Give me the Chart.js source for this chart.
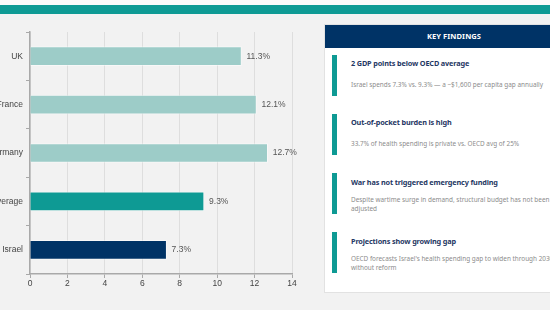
<!DOCTYPE html>
<html>
<head>
<meta charset="utf-8">
<script src="https://cdn.jsdelivr.net/npm/chart.js@4.4.1/dist/chart.umd.min.js"></script>
<style>
    html, body {
        margin: 0;
        padding: 0;
        width: 550px;
        height: 310px;
        overflow: hidden;
        background: #f2f2f2;
        font-family: "Liberation Sans", Arial, sans-serif;
    }
    .top-white { position: absolute; left: 0; top: 0; width: 550px; height: 5px; background: #fafafa; }
    .top-bar { position: absolute; left: 0; top: 5px; width: 550px; height: 9px; background: #0e9a94; }
    .chart-box { position: absolute; left: -70px; top: 20px; width: 370px; height: 276px; }
    .card {
        position: absolute; left: 324px; top: 24px; width: 260px; height: 269px;
        background: #ffffff; border: 1px solid #e2e2e2; box-sizing: border-box;
    }
    .card-head {
        height: 23px; background: #003366; color: #fff; text-align: center;
        font-family: "Noto Sans", sans-serif; font-weight: bold; font-size: 7.5px;
        line-height: 23px; letter-spacing: 0.1px;
    }
    .item { position: absolute; left: 7px; width: 250px; height: 41px; }
    .item .accent { position: absolute; left: 0; top: 0; width: 5px; height: 41px; background: #0e9a94; }
    .item .title {
        position: absolute; left: 19px; font-family: "Noto Sans", sans-serif; font-weight: bold;
        font-size: 7.3px; color: #1f3864; white-space: nowrap; line-height: 11px; letter-spacing: -0.15px;
    }
    .item .desc {
        position: absolute; left: 19px; width: 205px; font-family: "Noto Sans", sans-serif;
        font-size: 6.4px; color: #8c8c8c; line-height: 9px;
    }
</style>
</head>
<body>
<div class="top-white"></div>
<div class="top-bar"></div>
<div class="chart-box"><canvas id="main-chart"></canvas></div>

<div class="card">
    <div class="card-head">KEY FINDINGS</div>
    <div class="item" style="top:30px">
        <div class="accent"></div>
        <div class="title" style="top:2.5px">2 GDP points below OECD average</div>
        <div class="desc" style="top:24.5px">Israel spends 7.3% vs. 9.3% — a ~$1,600 per capita gap annually</div>
    </div>
    <div class="item" style="top:89px">
        <div class="accent"></div>
        <div class="title" style="top:2.5px">Out-of-pocket burden is high</div>
        <div class="desc" style="top:24.5px">33.7% of health spending is private vs. OECD avg of 25%</div>
    </div>
    <div class="item" style="top:148px">
        <div class="accent"></div>
        <div class="title" style="top:3.5px">War has not triggered emergency funding</div>
        <div class="desc" style="top:21.5px">Despite wartime surge in demand, structural budget has not been adjusted</div>
    </div>
    <div class="item" style="top:207px">
        <div class="accent"></div>
        <div class="title" style="top:3.5px">Projections show growing gap</div>
        <div class="desc" style="top:21.5px">OECD forecasts Israel's health spending gap to widen through 2030 without reform</div>
    </div>
</div>

<script>
const countries = ["UK", "France", "Germany", "OECD Average", "Israel"];
const spending = [11.3, 12.1, 12.7, 9.3, 7.3];
const barColors = ["#9dccc8", "#9dccc8", "#9dccc8", "#0e9a94", "#003366"];
const xTicks = [0, 2, 4, 6, 8, 10, 12, 14];

// draws the "11.3%" style labels at the end of each bar
const valueLabels = {
    id: "valueLabels",
    afterDatasetsDraw(chart) {
        const ctx = chart.ctx;
        const meta = chart.getDatasetMeta(0);
        ctx.save();
        ctx.font = "8.5px 'Liberation Sans', Arial, sans-serif";
        ctx.fillStyle = "#555555";
        ctx.textAlign = "left";
        ctx.textBaseline = "middle";
        meta.data.forEach((bar, i) => {
            ctx.fillText(spending[i].toFixed(1) + "%", bar.x + 5, bar.y);
        });
        ctx.restore();
    },
};

const chartCanvas = document.getElementById("main-chart");

new Chart(chartCanvas, {
    type: "bar",
    data: {
        labels: countries,
        datasets: [
            {
                data: spending,
                backgroundColor: barColors,
                borderColor: "rgba(255, 255, 255, 0.45)",
                borderWidth: 1,
                barThickness: 19,
            },
        ],
    },
    options: {
        indexAxis: "y",
        responsive: true,
        maintainAspectRatio: false,
        animation: false,
        layout: {
            padding: { top: 12, left: 0, right: 8, bottom: 0 },
        },
        scales: {
            x: {
                min: 0,
                max: 14,
                afterBuildTicks(scale) {
                    scale.ticks = xTicks.map((v) => ({ value: v }));
                },
                afterFit(scale) {
                    scale.height = 22;
                },
                border: { color: "#a9a9a9", width: 1.5 },
                grid: {
                    color: "#dedede",
                    tickColor: "#a9a9a9",
                    tickLength: 4,
                },
                ticks: {
                    color: "#444444",
                    padding: 1,
                    font: { family: "Liberation Sans", size: 8.5 },
                },
            },
            y: {
                afterFit(scale) {
                    scale.width = 100;
                },
                border: { color: "#a9a9a9", width: 1.5 },
                grid: {
                    drawOnChartArea: false,
                    color: "#a9a9a9",
                    tickLength: 4,
                    offset: true,
                },
                ticks: {
                    color: "#444444",
                    padding: 3,
                    font: { family: "Liberation Sans", size: 8.5 },
                },
            },
        },
        plugins: {
            legend: { display: false },
            tooltip: { enabled: false },
        },
    },
    plugins: [valueLabels],
});
</script>
</body>
</html>
